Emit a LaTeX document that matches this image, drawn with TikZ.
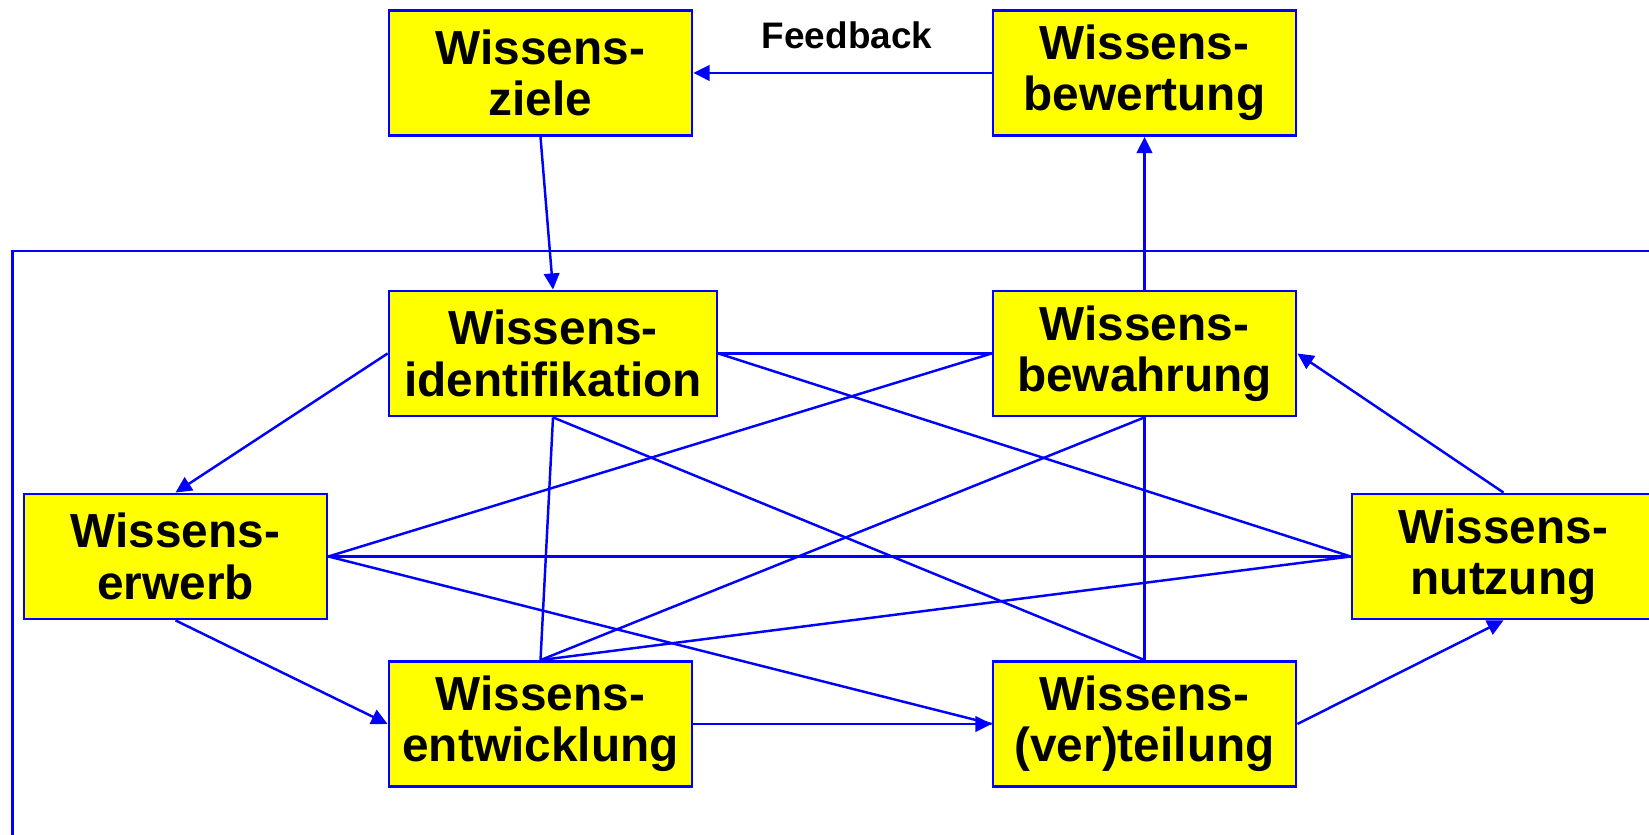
\documentclass[tikz,border=0pt]{standalone}
\usepackage{fontspec}
\setmainfont{Liberation Sans}
\usetikzlibrary{arrows.meta}
\definecolor{boxyellow}{RGB}{255,255,0}
\definecolor{lineblue}{RGB}{0,0,255}

\begin{document}
\begin{tikzpicture}[
  kmbox/.style={draw=lineblue, fill=boxyellow, line width=0.8pt, inner sep=0pt,
    minimum width=3.03cm, minimum height=1.25cm, align=center,
    font=\fontsize{13.6}{14.6}\selectfont\bfseries},
  link/.style={lineblue, line width=0.7pt},
  flow/.style={link, -{Triangle[length=4.6pt,width=4.4pt]}}
]
\useasboundingbox (0,0) rectangle (16.49,8.35);
\clip (0,0) rectangle (16.49,8.35);

% frame round the core processes
\draw [link] (0.125,-1) -- (0.125,5.84) -- (17,5.84);

% outer loop
\node [kmbox] (ziele) at (5.405,7.62) {Wissens-\\ziele};
\node [kmbox] (bewertung) at (11.445,7.62) {Wissens-\\bewertung};
\node [font=\fontsize{10.5}{12}\selectfont\bfseries] (fb) at (8.47,8.0) {Feedback};

% core processes
\node [kmbox, minimum width=3.28cm] (ident) at (5.53,4.815) {Wissens-\\identifikation};
\node [kmbox] (bewahrung) at (11.445,4.815) {Wissens-\\bewahrung};
\node [kmbox] (erwerb) at (1.755,2.785) {Wissens-\\erwerb};
\node [kmbox] (nutzung) at (15.035,2.785) {Wissens-\\nutzung};
\node [kmbox] (entw) at (5.405,1.11) {Wissens-\\entwicklung};
\node [kmbox] (verteil) at (11.445,1.11) {Wissens-\\(ver)teilung};

% cross links
\draw [link] (ident.east) -- (bewahrung.west);
\draw [link] (ident.east) -- (nutzung.west);
\draw [link] (ident.south) -- (entw.north);
\draw [link] (ident.south) -- (verteil.north);
\draw [link] (bewahrung.west) -- (erwerb.east);
\draw [link] (bewahrung.south) -- (entw.north);
\draw [link] (bewahrung.south) -- (verteil.north);
\draw [link] (erwerb.east) -- (nutzung.west);
\draw [link] (erwerb.east) -- (verteil.west);
\draw [link] (entw.north) -- (nutzung.west);

% cycle
\draw [flow] (ziele.south) -- (ident.north);
\draw [flow] (bewahrung.north) -- (bewertung.south);
\draw [flow] (bewertung.west) -- (ziele.east);
\draw [flow] (ident.west) -- (erwerb.north);
\draw [flow] (erwerb.south) -- (entw.west);
\draw [flow] (entw.east) -- (verteil.west);
\draw [flow] (verteil.east) -- (nutzung.south);
\draw [flow] (nutzung.north) -- (bewahrung.east);
\end{tikzpicture}
\end{document}
